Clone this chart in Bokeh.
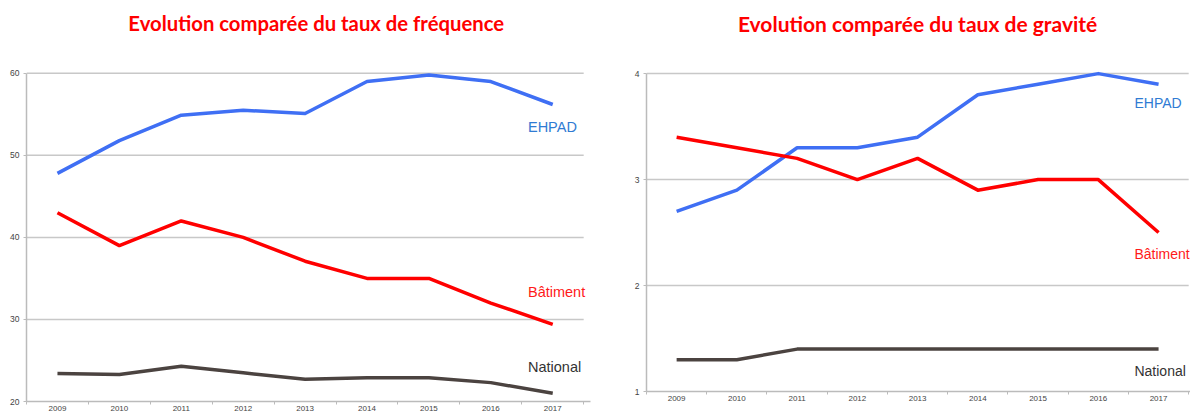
from bokeh.plotting import figure
from bokeh.layouts import row
from bokeh.models import FixedTicker, Label
from bokeh.embed import file_html
from bokeh.resources import INLINE

years = [2009, 2010, 2011, 2012, 2013, 2014, 2015, 2016, 2017]
year_labels = [str(y) for y in years]

freq_ehpad = [47.8, 51.8, 54.9, 55.5, 55.1, 59.0, 59.8, 59.0, 56.2]
freq_batiment = [43.0, 39.0, 42.0, 40.0, 37.1, 35.0, 35.0, 32.0, 29.4]
freq_national = [23.4, 23.3, 24.3, 23.5, 22.7, 22.9, 22.9, 22.3, 21.0]

grav_ehpad = [2.7, 2.9, 3.3, 3.3, 3.4, 3.8, 3.9, 4.0, 3.9]
grav_batiment = [3.4, 3.3, 3.2, 3.0, 3.2, 2.9, 3.0, 3.0, 2.5]
grav_national = [1.3, 1.3, 1.4, 1.4, 1.4, 1.4, 1.4, 1.4, 1.4]

series_names = ["EHPAD", "Bâtiment", "National"]
line_colors = ["#3f6ff4", "#ff0000", "#4b4340"]
label_colors = ["#2f7bd3", "#ff1a1a", "#333333"]

titles = ["Evolution comparée du taux de fréquence", "Evolution comparée du taux de gravité"]
freq_ticks = [20, 30, 40, 50, 60]
grav_ticks = [1, 2, 3, 4]


def make_chart(title, series, yticks, y_top, width, height, x_end, mb_left, mb_right,
               title_size, title_pos, label_x, label_ys, label_size):
    x0 = years[0] - 0.5
    x1 = years[-1] + 0.5
    p = figure(width=width, height=height, output_backend="svg", toolbar_location=None,
               x_range=(x0, x_end), y_range=(yticks[0], y_top),
               min_border_left=mb_left, min_border_right=mb_right, min_border_top=0,
               min_border_bottom=13, title=None)
    p.outline_line_color = None
    p.background_fill_color = "white"
    p.border_fill_color = "white"

    # chart title drawn in the free space above the value range
    p.add_layout(Label(x=title_pos[0], y=title_pos[1], text=title, text_color="#ff0000",
                       text_font="Lato", text_font_style="bold", text_font_size=title_size,
                       text_align="center", text_baseline="middle"))

    xa = p.below[0]
    xt = FixedTicker(ticks=years, minor_ticks=[y - 0.5 for y in years] + [x1])
    xa.ticker = xt
    xa.major_label_overrides = {y: l for y, l in zip(years, year_labels)}
    xa.major_tick_out = 0
    xa.major_tick_in = 0
    xa.minor_tick_out = 3
    xa.minor_tick_in = 0
    xa.minor_tick_line_color = "#bbbbbb"
    xa.major_label_standoff = 1
    xa.major_label_text_font = "Liberation Sans"
    xa.major_label_text_font_size = "8px"
    xa.major_label_text_color = "#444444"
    xa.axis_line_color = "#bbbbbb"
    xa.axis_line_width = 1.5

    ya = p.left[0]
    ya.ticker = FixedTicker(ticks=yticks)
    ya.bounds = (yticks[0], yticks[-1])
    ya.major_tick_out = 3
    ya.major_tick_in = 0
    ya.minor_tick_line_color = None
    ya.major_tick_line_color = "#bbbbbb"
    ya.axis_line_color = "#bbbbbb"
    ya.axis_line_width = 1.5
    ya.major_label_standoff = 4
    ya.major_label_text_font = "Liberation Sans"
    ya.major_label_text_font_size = "8.5px"
    ya.major_label_text_color = "#444444"

    p.xgrid.grid_line_color = None
    p.ygrid.grid_line_color = None
    # horizontal gridlines spanning the category area only
    p.segment(x0=[x0] * len(yticks[1:]), y0=yticks[1:], x1=[x1] * len(yticks[1:]), y1=yticks[1:],
              line_color="#c8c8c8", line_width=1.5)

    for vals, color in zip(series, line_colors):
        p.line(years, vals, line_color=color, line_width=3.5, line_join="round")

    for name, color, ly in zip(series_names, label_colors, label_ys):
        p.add_layout(Label(x=label_x, y=ly, text=name, text_color=color,
                           text_font="Liberation Sans", text_font_size=label_size,
                           text_baseline="middle", text_align="left"))
    return p


p1 = make_chart(titles[0], [freq_ehpad, freq_batiment, freq_national], freq_ticks, 68.875,
                600, 414, 2017.61, 26, 10, "20.3px", (2013.18, 66.08),
                2016.6, [53.43, 33.37, 24.25], "14.5px")
p2 = make_chart(titles[1], [grav_ehpad, grav_batiment, grav_national], grav_ticks, 4.69,
                590, 404, 2017.53, 46, 0, "21px", (2013.0, 4.474),
                2016.6, [3.72, 2.30, 1.19], "14px")

layout = row(p1, p2)
open("out.html", "w").write(file_html(layout, INLINE))
